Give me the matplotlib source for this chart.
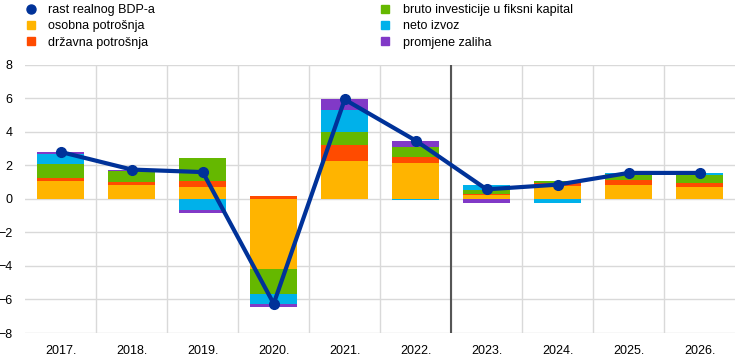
import matplotlib.pyplot as plt
import numpy as np

plt.rcParams['font.family'] = ['Liberation Sans', 'DejaVu Sans']

# data (percentage points)
years = ['2017.', '2018.', '2019.', '2020.', '2021.', '2022.', '2023.', '2024.', '2025.', '2026.']
gdp = [2.8, 1.75, 1.6, -6.25, 5.93, 3.48, 0.57, 0.85, 1.55, 1.55]
osobna = [1.05, 0.8, 0.72, -4.18, 2.27, 2.15, 0.26, 0.75, 0.85, 0.7]
drzavna = [0.2, 0.2, 0.33, 0.2, 0.93, 0.33, 0.05, 0.2, 0.3, 0.25]
investicije = [0.85, 0.65, 1.4, -1.47, 0.8, 0.62, 0.24, 0.14, 0.32, 0.5]
neto_izvoz = [0.55, 0.0, -0.68, -0.62, 1.33, -0.05, 0.25, -0.24, 0.05, 0.1]
zalihe = [0.13, 0.1, -0.16, -0.2, 0.6, 0.38, -0.24, 0.0, 0.0, 0.0]

series = [
    (osobna, 'osobna potrošnja', '#FFB400'),
    (drzavna, 'državna potrošnja', '#FF4B00'),
    (investicije, 'bruto investicije u fiksni kapital', '#65B800'),
    (neto_izvoz, 'neto izvoz', '#00B1EA'),
    (zalihe, 'promjene zaliha', '#8139C7'),
]

fig = plt.figure(figsize=(7.44, 3.6), dpi=100)
ax = fig.add_axes([0.034, 0.075, 0.954, 0.745])

x = np.arange(len(years))
pos_base = np.zeros(len(years))
neg_base = np.zeros(len(years))
bars = []
for vals, name, col in series:
    v = np.array(vals)
    base = np.where(v >= 0, pos_base, neg_base)
    b = ax.bar(x, v, 0.66, bottom=base, color=col, label=name, zorder=2)
    bars.append(b)
    pos_base = pos_base + np.where(v > 0, v, 0)
    neg_base = neg_base + np.where(v < 0, v, 0)

line, = ax.plot(x, gdp, color='#003299', lw=3, marker='o', ms=7, zorder=4,
                label='rast realnog BDP-a')

ax.set_xlim(-0.5, len(years) - 0.5)
ax.set_ylim(-8, 8)
ax.set_yticks(np.arange(-8, 9, 2))
ax.set_xticks(x)
ax.set_xticklabels(years)
ax.set_xticks(np.arange(0.5, len(years) - 0.5, 1), minor=True)
ax.grid(axis='y', color='#d9d9d9', lw=1, zorder=0)
ax.grid(axis='x', which='minor', color='#d9d9d9', lw=1, zorder=0)
ax.axvline(5.5, color='#555555', lw=1.5, zorder=3)
ax.tick_params(which='both', length=0, labelsize=9)
ax.tick_params(axis='y', pad=9)
ax.tick_params(axis='x', pad=9)
for s in ax.spines.values():
    s.set_visible(False)

handles = [line] + bars
labels = [h.get_label() for h in handles]
leg_handles = [plt.Line2D([], [], marker='o', color='#003299', ls='none', ms=6.5)]
for vals, name, col in series:
    leg_handles.append(plt.Line2D([], [], marker='s', color=col, ls='none', ms=5.5))
fig.legend(leg_handles, labels, loc='upper left', bbox_to_anchor=(0.018, 1.02),
           ncol=2, frameon=False, fontsize=9, handlelength=1, handletextpad=0.9,
           columnspacing=17.9, labelspacing=0.35)

fig.savefig('out.png', dpi=100)
